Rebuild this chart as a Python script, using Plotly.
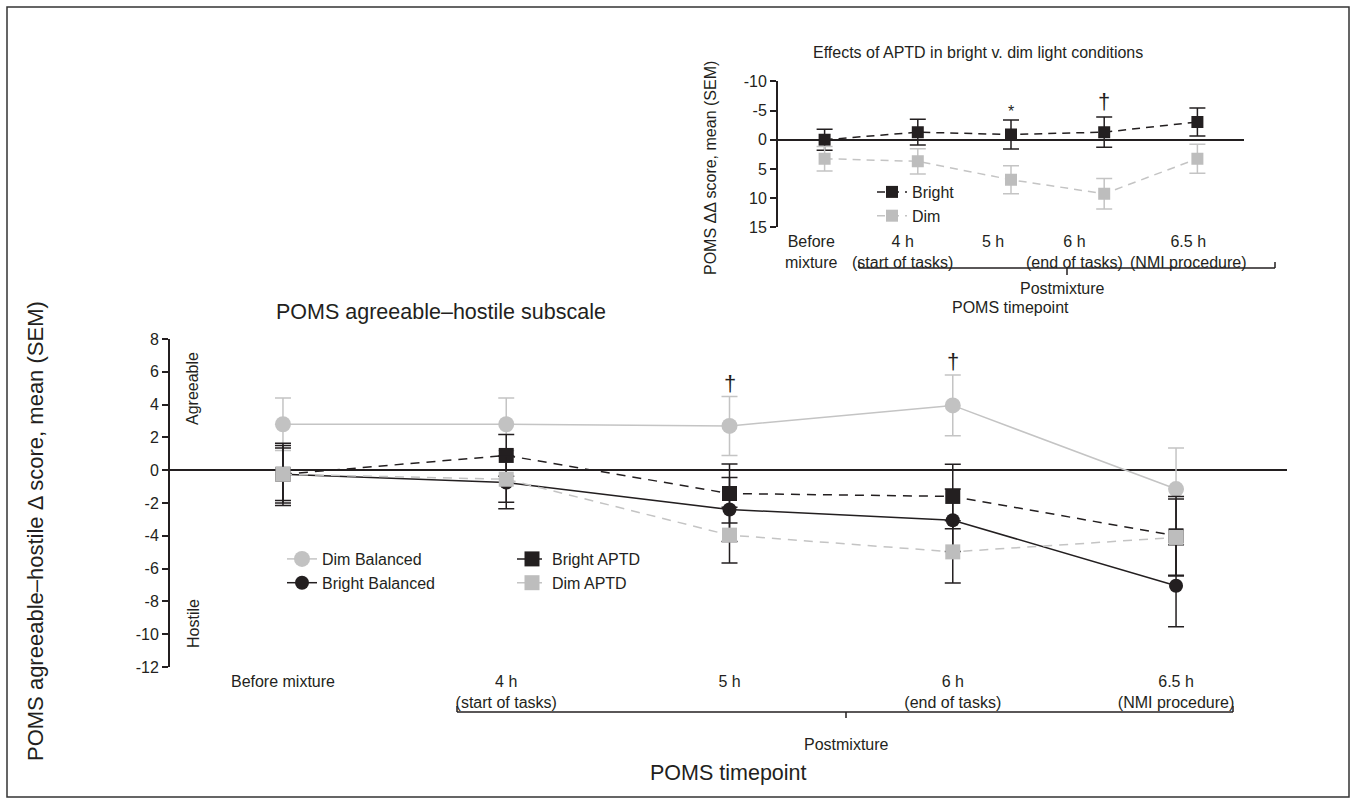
import plotly.graph_objects as go

W, H = 1353, 804
FONT = "Liberation Sans, Arial, Helvetica, sans-serif"
INK = "#231f20"
LGRAY = "#c4c4c4"

# ---------------- data: main chart ----------------
timepoints = ["Before mixture", "4 h<br>(start of tasks)", "5 h", "6 h<br>(end of tasks)", "6.5 h<br>(NMI procedure)"]
dim_balanced = [2.8, 2.8, 2.7, 3.95, -1.15]
dim_balanced_sem = [1.6, 1.6, 1.8, 1.85, 2.5]
bright_balanced = [-0.25, -0.75, -2.4, -3.05, -7.05]
bright_balanced_sem = [1.9, 1.6, 1.95, 1.9, 2.5]
bright_aptd = [-0.25, 0.9, -1.42, -1.6, -4.0]
bright_aptd_sem = [1.75, 1.27, 1.8, 1.97, 2.4]
dim_aptd = [-0.25, -0.55, -3.96, -4.98, -4.1]
dim_aptd_sem = [1.6, 1.4, 1.7, 1.9, 2.35]
main_yticks = [8, 6, 4, 2, 0, -2, -4, -6, -8, -10, -12]
main_sig = {2: 5.3, 3: 6.6}  # dagger positions (index: y)

# ---------------- data: inset ----------------
inset_labels = ["Before<br>mixture", "4 h<br>(start of tasks)", "5 h", "6 h<br>(end of tasks)", "6.5 h<br>(NMI procedure)"]
inset_bright = [0.0, -1.3, -0.9, -1.3, -3.05]
inset_bright_sem = [1.8, 2.2, 2.5, 2.6, 2.4]
inset_dim = [3.25, 3.7, 6.85, 9.25, 3.25]
inset_dim_sem = [2.1, 2.15, 2.4, 2.6, 2.5]
inset_yticks = [-10, -5, 0, 5, 10, 15]

xi = list(range(len(timepoints)))


def px(x):
    return x / W


def py(y):
    return 1 - y / H


fig = go.Figure()

# main traces
fig.add_trace(go.Scatter(
    x=xi, y=dim_balanced, name="Dim Balanced", mode="lines+markers",
    line=dict(color=LGRAY, width=1.5),
    marker=dict(symbol="circle", size=16, color="#c2c2c2"),
    error_y=dict(type="data", array=dim_balanced_sem, color=LGRAY, thickness=1.5, width=8),
    xaxis="x", yaxis="y", legend="legend"))
fig.add_trace(go.Scatter(
    x=xi, y=bright_balanced, name="Bright Balanced", mode="lines+markers",
    line=dict(color=INK, width=1.5),
    marker=dict(symbol="circle", size=14, color=INK),
    error_y=dict(type="data", array=bright_balanced_sem, color=INK, thickness=1.5, width=8),
    xaxis="x", yaxis="y", legend="legend"))
fig.add_trace(go.Scatter(
    x=xi, y=bright_aptd, name="Bright APTD", mode="lines+markers",
    line=dict(color=INK, width=1.5, dash="9px,7px"),
    marker=dict(symbol="square", size=15, color=INK),
    error_y=dict(type="data", array=bright_aptd_sem, color=INK, thickness=1.5, width=8),
    xaxis="x", yaxis="y", legend="legend2"))
fig.add_trace(go.Scatter(
    x=xi, y=dim_aptd, name="Dim APTD", mode="lines+markers",
    line=dict(color=LGRAY, width=1.5, dash="9px,7px"),
    marker=dict(symbol="square", size=15, color="#bdbdbd"),
    error_y=dict(type="data", array=dim_aptd_sem, color=INK, thickness=1.5, width=8),
    xaxis="x", yaxis="y", legend="legend2"))

# inset traces
fig.add_trace(go.Scatter(
    x=xi, y=inset_bright, name="Bright", mode="lines+markers",
    line=dict(color=INK, width=1.5, dash="8px,6px"),
    marker=dict(symbol="square", size=12, color=INK),
    error_y=dict(type="data", array=inset_bright_sem, color=INK, thickness=1.5, width=8),
    xaxis="x2", yaxis="y2", legend="legend3"))
fig.add_trace(go.Scatter(
    x=xi, y=inset_dim, name="Dim", mode="lines+markers",
    line=dict(color=LGRAY, width=1.5, dash="8px,6px"),
    marker=dict(symbol="square", size=12, color="#bdbdbd"),
    error_y=dict(type="data", array=inset_dim_sem, color=LGRAY, thickness=1.5, width=8),
    xaxis="x2", yaxis="y2", legend="legend3"))

# annotations
ann = []
for i, yv in main_sig.items():
    ann.append(dict(x=i, y=yv, xref="x", yref="y", text="†", showarrow=False,
                    font=dict(size=22, color=INK, family=FONT)))
ann.append(dict(x=2, y=-4.8, xref="x2", yref="y2", text="*", showarrow=False,
                font=dict(size=16, color=INK, family=FONT)))
ann.append(dict(x=3, y=-6.6, xref="x2", yref="y2", text="†", showarrow=False,
                font=dict(size=22, color=INK, family=FONT)))

inset_label_x = [-0.14, 0.84, 1.81, 2.68, 3.9]
for lx, lab in zip(inset_label_x, inset_labels):
    ann.append(dict(x=lx, y=py(231), xref="x2", yref="paper", text=lab, showarrow=False,
                    xanchor="center", yanchor="top", align="center",
                    font=dict(size=16, color=INK, family=FONT)))


def text(x, y, t, size=16, angle=0):
    ann.append(dict(x=px(x), y=py(y), xref="paper", yref="paper", text=t, showarrow=False,
                    xanchor="center", yanchor="middle", textangle=angle,
                    font=dict(size=size, color=INK, family=FONT)))


text(441, 312, "POMS agreeable–hostile subscale", 21.5)
text(35, 531, "POMS agreeable–hostile Δ score, mean (SEM)", 22, -90)
text(193, 389, "Agreeable", 16, -90)
text(193, 624, "Hostile", 16, -90)
text(846, 744, "Postmixture", 16)
text(728, 773, "POMS timepoint", 21.5)
text(978, 52, "Effects of APTD in bright v. dim light conditions", 16)
text(711, 168, "POMS ΔΔ score, mean (SEM)", 16, -90)
text(1062, 289, "Postmixture", 16)
text(1010, 307, "POMS timepoint", 16)

# shapes (brackets and frame)
shapes = []


def seg(x0, y0, x1, y1, w=1.5, color=INK):
    shapes.append(dict(type="line", xref="paper", yref="paper",
                       x0=px(x0), y0=py(y0), x1=px(x1), y1=py(y1),
                       line=dict(color=color, width=w)))


# main bracket
seg(457, 712, 1233, 712)
seg(457, 712, 457, 706)
seg(1233, 712, 1233, 706)
seg(846, 712, 846, 718)
# inset bracket
seg(859, 268, 1275, 268)
seg(859, 268, 859, 262)
seg(1275, 268, 1275, 262)
seg(1067, 268, 1067, 275)
# frame
shapes.append(dict(type="rect", xref="paper", yref="paper",
                   x0=px(7), y0=py(797), x1=px(1349), y1=py(7),
                   line=dict(color="#333333", width=1.5)))

axis_font = dict(size=16, color=INK, family=FONT)

fig.update_layout(
    template="none",
    width=W, height=H, autosize=False,
    margin=dict(l=0, r=0, t=0, b=0, pad=0, autoexpand=False),
    paper_bgcolor="white", plot_bgcolor="white",
    font=dict(family=FONT, color=INK, size=16),
    annotations=ann, shapes=shapes,
    xaxis=dict(domain=[px(170), px(1287)], range=[-0.506, 4.497], anchor="y", automargin=False,
               tickvals=xi, ticktext=timepoints, tickfont=axis_font, ticklabelstandoff=3,
               showline=False, ticks="", showgrid=False, zeroline=False),
    yaxis=dict(domain=[py(667), py(339)], range=[-12, 8], anchor="x", automargin=False,
               tickvals=main_yticks, ticktext=[str(v) for v in main_yticks],
               tickfont=axis_font, showline=True, linecolor=INK, linewidth=2,
               ticks="outside", ticklen=6, tickwidth=1.5, tickcolor=INK,
               showgrid=False, zeroline=True, zerolinecolor=INK, zerolinewidth=2),
    xaxis2=dict(domain=[px(778), px(1244)], range=[-0.5, 4.5], anchor="y2", automargin=False,
                showticklabels=False, showline=False, ticks="", showgrid=False, zeroline=False),
    yaxis2=dict(domain=[py(227.3), py(81.4)], range=[15, -10], anchor="x2", automargin=False,
                tickvals=inset_yticks, ticktext=[str(v) for v in inset_yticks],
                tickfont=axis_font, showline=True, linecolor=INK, linewidth=2,
                ticks="outside", ticklen=6, tickwidth=1.5, tickcolor=INK,
                showgrid=False, zeroline=True, zerolinecolor=INK, zerolinewidth=2),
    legend=dict(x=px(282), y=py(542), xanchor="left", yanchor="top",
                bgcolor="rgba(0,0,0,0)", font=dict(size=16, color=INK, family=FONT),
                tracegroupgap=0),
    legend2=dict(x=px(512), y=py(542), xanchor="left", yanchor="top",
                 bgcolor="rgba(0,0,0,0)", font=dict(size=16, color=INK, family=FONT),
                 tracegroupgap=0),
    legend3=dict(x=px(872), y=py(175), xanchor="left", yanchor="top",
                 bgcolor="rgba(0,0,0,0)", font=dict(size=16, color=INK, family=FONT),
                 tracegroupgap=0),
)

fig.write_html("out.html", config={"displayModeBar": False},
               post_script="document.body.style.margin='0px';document.body.style.overflow='hidden';")
